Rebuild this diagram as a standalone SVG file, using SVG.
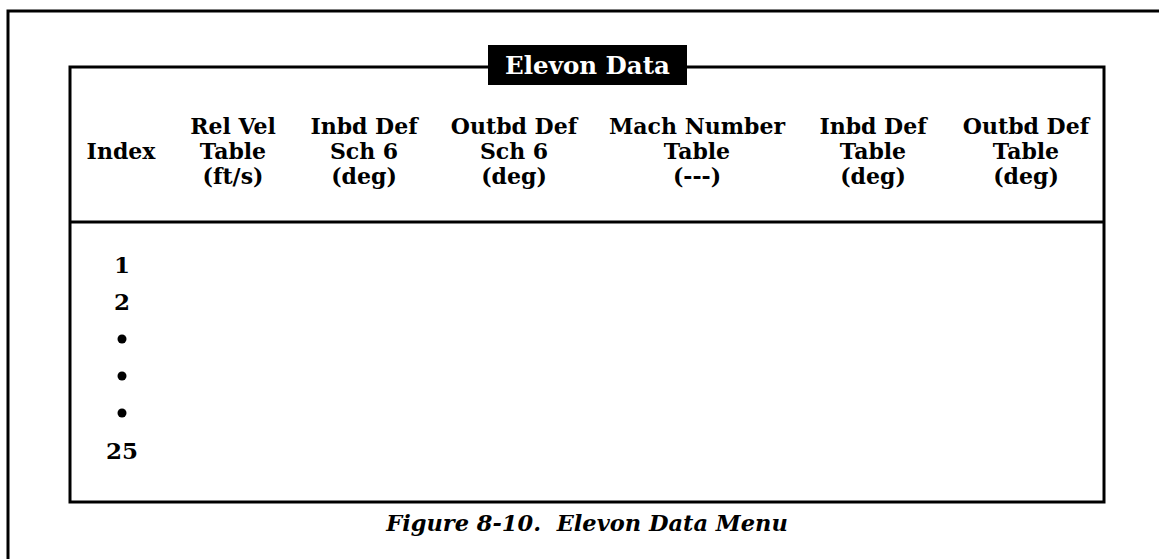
<svg xmlns="http://www.w3.org/2000/svg" width="1159" height="559" viewBox="0 0 1159 559">
<style>
.ln{fill:none;stroke:#000;stroke-width:3}
.t{font-family:"DejaVu Serif","Liberation Serif",serif;font-weight:bold;font-size:22px;fill:#000;text-anchor:middle}
.n{font-size:23px}
.ttl{font-family:"DejaVu Serif","Liberation Serif",serif;font-weight:bold;font-size:24.5px;fill:#fff;text-anchor:middle}
.cap{font-family:"DejaVu Serif","Liberation Serif",serif;font-weight:bold;font-style:italic;font-size:22.5px;fill:#000;text-anchor:middle}
</style>
<rect width="1159" height="559" fill="#fff"/>
<g id="frame">
<path class="ln" d="M8 559 V11 H1159"/>
</g>
<g id="panel">
<rect class="ln" x="70" y="67" width="1034" height="435"/>
<line class="ln" x1="70" y1="222" x2="1104" y2="222"/>
</g>
<g id="title">
<rect x="488" y="45" width="199" height="40" fill="#000"/>
<text class="ttl" x="587.5" y="74">Elevon Data</text>
</g>
<g id="header">
<text class="t" x="121" y="159">Index</text>
<text class="t" x="233" y="134">Rel Vel</text>
<text class="t" x="233" y="159">Table</text>
<text class="t" x="233" y="184">(ft/s)</text>
<text class="t" x="364" y="134">Inbd Def</text>
<text class="t" x="364" y="159">Sch 6</text>
<text class="t" x="364" y="184">(deg)</text>
<text class="t" x="514" y="134">Outbd Def</text>
<text class="t" x="514" y="159">Sch 6</text>
<text class="t" x="514" y="184">(deg)</text>
<text class="t" x="697" y="134">Mach Number</text>
<text class="t" x="697" y="159">Table</text>
<text class="t" x="697" y="184">(---)</text>
<text class="t" x="873" y="134">Inbd Def</text>
<text class="t" x="873" y="159">Table</text>
<text class="t" x="873" y="184">(deg)</text>
<text class="t" x="1026" y="134">Outbd Def</text>
<text class="t" x="1026" y="159">Table</text>
<text class="t" x="1026" y="184">(deg)</text>
</g>
<g id="rows">
<text class="t n" x="122" y="273">1</text>
<text class="t n" x="122" y="310">2</text>
<circle cx="122" cy="339" r="4.5"/>
<circle cx="122" cy="376" r="4.5"/>
<circle cx="122" cy="413" r="4.5"/>
<text class="t n" x="122" y="459">25</text>
</g>
<g id="caption">
<text class="cap" x="587" y="531" xml:space="preserve">Figure 8-10.  Elevon Data Menu</text>
</g>
</svg>
